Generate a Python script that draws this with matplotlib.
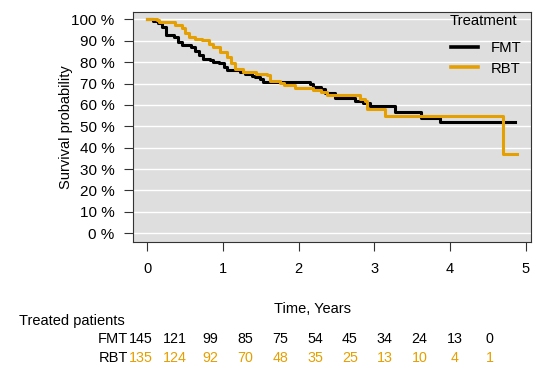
import numpy as np
import matplotlib.pyplot as plt

plt.rcParams['font.family'] = ['Liberation Sans', 'DejaVu Sans']
plt.rcParams['font.size'] = 10.5

# Kaplan-Meier steps (years, survival %)
fmt_t = [0, 0.08, 0.14, 0.19, 0.24, 0.35, 0.41, 0.46, 0.57, 0.63, 0.68, 0.74,
         0.83, 0.87, 0.94, 1.01, 1.05, 1.23, 1.29, 1.38, 1.42, 1.49, 1.53, 2.15,
         2.19, 2.30, 2.35, 2.48, 2.74, 2.85, 2.94, 3.27, 3.62, 3.87, 4.86]
fmt_s = [100, 99.3, 98.5, 96.6, 92.5, 91.8, 89.5, 88.0, 87.0, 85.0, 83.3, 81.7,
         81.0, 80.0, 79.4, 77.8, 76.3, 75.5, 74.3, 73.6, 73.0, 72.0, 70.9, 69.6,
         68.5, 67.3, 65.7, 63.4, 61.8, 61.0, 59.5, 56.7, 54.0, 52.0, 52.0]

rbt_t = [0, 0.13, 0.15, 0.37, 0.46, 0.50, 0.55, 0.63, 0.72, 0.81, 0.87, 0.96,
         1.05, 1.10, 1.16, 1.27, 1.43, 1.58, 1.62, 1.75, 1.80, 1.95, 2.19, 2.30,
         2.37, 2.81, 2.88, 2.90, 3.14, 4.70, 4.88]
rbt_s = [100, 99.5, 98.7, 97.5, 96.0, 93.5, 91.8, 91.0, 90.2, 88.7, 87.1, 84.8,
         82.5, 79.4, 77.0, 75.5, 74.5, 74.0, 71.0, 70.2, 69.5, 68.0, 66.8, 66.2,
         64.8, 62.6, 61.8, 58.3, 54.8, 36.9, 36.9]

# number at risk table
risk_times = [0, 0.5, 1, 1.5, 2, 2.5, 3, 3.5, 4, 4.5, 5]
fmt_risk = [145, 121, 99, 85, 75, 54, 45, 34, 24, 13, 0]
rbt_risk = [135, 124, 92, 70, 48, 35, 25, 13, 10, 4, 1]

c_fmt = 'black'
c_rbt = '#E69F00'

W, H = 550, 376
fig = plt.figure(figsize=(W / 100, H / 100), dpi=100)
ax = fig.add_axes([133 / W, 1 - 242 / H, 398 / W, 230.3 / H])
ax.set_facecolor('#DEDEDE')

ax.step(fmt_t, fmt_s, where='post', color=c_fmt, lw=2.2, label='FMT')
ax.step(rbt_t, rbt_s, where='post', color=c_rbt, lw=2.2, label='RBT')

ax.set_xlim(-0.19, 5.07)
ax.set_ylim(-4.1, 103.6)
ax.set_yticks(range(0, 101, 10))
ax.set_yticklabels([f'{v} %' for v in range(0, 101, 10)])
ax.set_xticks(range(6))
ax.grid(axis='y', color='white', lw=1)
ax.set_axisbelow(True)
for sp in ax.spines.values():
    sp.set_color('#333333')
    sp.set_linewidth(0.8)
ax.tick_params(axis='both', length=6.5, width=0.8, color='#333333')
ax.tick_params(axis='y', pad=7, labelsize=11)
ax.tick_params(axis='x', pad=8, labelsize=10.5)
ax.set_ylabel('Survival probability', fontsize=10.5)
ax.yaxis.set_label_coords(-0.151, 0.5)

# legend: title drawn separately so the gap below it can match
fig.text(450 / W, 1 - 20.7 / H, 'Treatment', ha='left', va='center', fontsize=10.7)
leg = ax.legend(frameon=False, loc='upper left',
                bbox_to_anchor=(451 / W, 1 - 41 / H), bbox_transform=fig.transFigure,
                borderpad=0, borderaxespad=0, handlelength=1.8, handletextpad=0.85,
                labelspacing=0.45, fontsize=10.7)
for ln in leg.get_lines():
    ln.set_linewidth(2.6)

fig.text(313 / W, 1 - 309 / H, 'Time, Years', ha='center', va='center')
fig.text(19 / W, 1 - 321 / H, 'Treated patients', ha='left', va='center')
fig.text(128 / W, 1 - 339 / H, 'FMT', ha='right', va='center')
fig.text(128 / W, 1 - 358 / H, 'RBT', ha='right', va='center')

tbl = fig.add_axes([140.4 / W, 0, 349.1 / W, 1])
tbl.set_xlim(0, 5)
tbl.set_ylim(H, 0)
tbl.axis('off')
for t, a, b in zip(risk_times, fmt_risk, rbt_risk):
    tbl.text(t, 339, str(a), ha='center', va='center', color=c_fmt, fontsize=10.3)
    tbl.text(t, 358, str(b), ha='center', va='center', color=c_rbt, fontsize=10.3)

fig.savefig('out.png', dpi=100)
